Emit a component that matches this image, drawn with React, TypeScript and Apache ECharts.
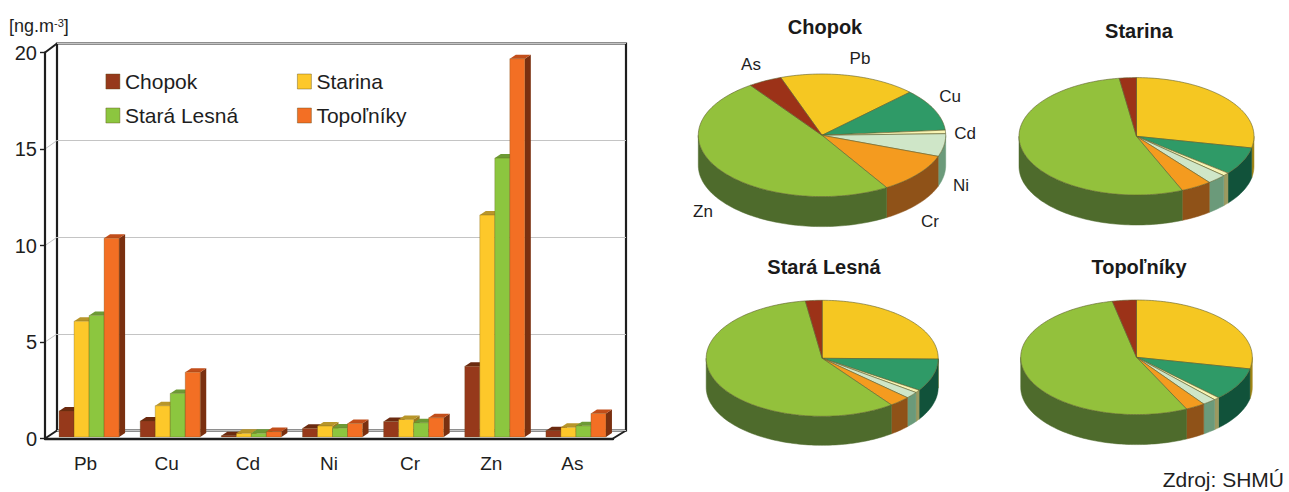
import React, { useEffect, useRef } from "react";
import * as echarts from "echarts";

// Heavy metals in PM10 at four Slovak stations, ng.m-3
const categories = ["Pb", "Cu", "Cd", "Ni", "Cr", "Zn", "As"];
const chopok = [1.35, 0.83, 0.07, 0.45, 0.8, 3.67, 0.33];
const starina = [6.0, 1.62, 0.19, 0.57, 0.91, 11.5, 0.5];
const staraLesna = [6.3, 2.26, 0.19, 0.46, 0.74, 14.45, 0.58];
const topolniky = [10.3, 3.36, 0.28, 0.7, 1.0, 19.6, 1.22];
const yTicks = { min: 0, max: 20, step: 5 };

const FONT = '"Liberation Sans", Arial, sans-serif';
const INK = "#1e1e1e";

// front face, top face, side face of each 3D column
const barStyles = [
  { name: "Chopok", values: chopok, front: "#96391b", top: "#6b2a10", side: "#6b2a10" },
  { name: "Starina", values: starina, front: "#fdc82a", top: "#b8962a", side: "#9a7a20" },
  { name: "Stará Lesná", values: staraLesna, front: "#8cc63f", top: "#6d9a35", side: "#557a28" },
  { name: "Topoľníky", values: topolniky, front: "#f36f24", top: "#c24e1a", side: "#7a3010" },
];

const sliceTop = ["#f5c722", "#2f9a67", "#f8f4b4", "#cfe6c8", "#f49b1f", "#93c13c", "#9c3218"];
const sliceSide = ["#a08518", "#11523a", "#9c9a60", "#6b9a7a", "#8f5218", "#4e6b2c", "#5c1d0c"];

const pies = [
  { title: "Chopok", values: chopok, start: -19.5, cx: 822, cy: 135.3, rx: 123.7, ry: 61.3, depth: 30, titleX: 825, titleY: 27 },
  { title: "Starina", values: starina, start: 0, cx: 1136.5, cy: 136.3, rx: 117.5, ry: 58.7, depth: 30, titleX: 1139, titleY: 31 },
  { title: "Stará Lesná", values: staraLesna, start: 0, cx: 822.2, cy: 358.3, rx: 116, ry: 58, depth: 29, titleX: 824, titleY: 267 },
  { title: "Topoľníky", values: topolniky, start: 0, cx: 1136.5, cy: 357.3, rx: 115.8, ry: 57.3, depth: 30, titleX: 1139, titleY: 267 },
];

// slice captions around the first pie only
const chopokLabels = [
  { text: "As", x: 751, y: 64 },
  { text: "Pb", x: 860, y: 58 },
  { text: "Cu", x: 950, y: 96 },
  { text: "Cd", x: 965, y: 133 },
  { text: "Ni", x: 961, y: 185 },
  { text: "Cr", x: 930, y: 221 },
  { text: "Zn", x: 703, y: 211 },
];

const SHIFT_X = 3.5;
const SHIFT_Y = -1.5;
const DEPTH_X = 6;
const DEPTH_Y = 4;

function barRenderer(seriesIndex: number, style: (typeof barStyles)[number]) {
  return (_params: any, api: any) => {
    const cat = api.value(0);
    const [cx, top0] = api.coord([cat, api.value(1)]);
    const [, base0] = api.coord([cat, 0]);
    const w = api.size([1, 0])[0] * 0.185;
    const left = cx + SHIFT_X - 2 * w + seriesIndex * w;
    const top = top0 + SHIFT_Y;
    const base = base0 + SHIFT_Y;
    const right = left + w;
    return {
      type: "group",
      children: [
        {
          type: "polygon",
          shape: { points: [[right, top], [right + DEPTH_X, top - DEPTH_Y], [right + DEPTH_X, base - DEPTH_Y], [right, base]] },
          style: { fill: style.side },
        },
        {
          type: "polygon",
          shape: { points: [[left, top], [left + DEPTH_X, top - DEPTH_Y], [right + DEPTH_X, top - DEPTH_Y], [right, top]] },
          style: { fill: style.top },
        },
        {
          type: "rect",
          shape: { x: left, y: top, width: w, height: base - top },
          style: { fill: style.front, stroke: "rgba(90,70,20,0.45)", lineWidth: 0.6 },
        },
      ],
    };
  };
}

function pieRenderer(pie: (typeof pies)[number]) {
  const total = pie.values.reduce((a, b) => a + b, 0);
  const rad = (deg: number) => (deg * Math.PI) / 180;
  const rim = (deg: number, drop = 0) => [
    pie.cx + pie.rx * Math.sin(rad(deg)),
    pie.cy - pie.ry * Math.cos(rad(deg)) + drop,
  ];
  return (params: any, api: any) => {
    const i = params.dataIndex;
    const before = pie.values.slice(0, i).reduce((a, b) => a + b, 0);
    const from = pie.start + (before / total) * 360;
    const to = from + (api.value(0) / total) * 360;

    const arc: number[][] = [];
    for (let a = from; a < to; a += 1.5) arc.push(rim(a));
    arc.push(rim(to));

    const children: any[] = [];
    // outer wall is visible only along the near half of the ellipse
    const wallFrom = Math.max(from, 90);
    const wallTo = Math.min(to, 270);
    if (wallTo > wallFrom) {
      const upper: number[][] = [];
      const lower: number[][] = [];
      for (let a = wallFrom; a < wallTo; a += 1.5) {
        upper.push(rim(a));
        lower.push(rim(a, pie.depth));
      }
      upper.push(rim(wallTo));
      lower.push(rim(wallTo, pie.depth));
      children.push({
        type: "polygon",
        shape: { points: [...upper, ...lower.reverse()] },
        style: { fill: sliceSide[i], stroke: sliceSide[i], lineWidth: 0.5 },
      });
    }
    children.push({
      type: "polygon",
      shape: { points: [[pie.cx, pie.cy], ...arc] },
      style: { fill: sliceTop[i], stroke: "rgba(95,95,45,0.75)", lineWidth: 0.8 },
    });
    return { type: "group", children };
  };
}

export default function App() {
  const ref = useRef<HTMLDivElement>(null);

  useEffect(() => {
    document.body.style.margin = "0";
    document.body.style.background = "#ffffff";
    const chart = echarts.init(ref.current!, undefined, { renderer: "svg" });

    const wallDiagonals = [
      { x1: 45, y1: 52.5, x2: 57, y2: 43.5, color: INK, width: 2 },
      { x1: 45, y1: 149, x2: 57, y2: 140.5, color: "#c4c4c4", width: 1 },
      { x1: 45, y1: 245.5, x2: 57, y2: 237.3, color: "#c4c4c4", width: 1 },
      { x1: 45, y1: 342, x2: 57, y2: 334, color: "#c4c4c4", width: 1 },
      { x1: 45, y1: 438.5, x2: 57, y2: 430.5, color: INK, width: 2 },
      { x1: 613, y1: 438.5, x2: 626, y2: 430.5, color: INK, width: 2 },
    ];

    const legendBase = {
      orient: "vertical",
      top: 70,
      itemWidth: 14,
      itemHeight: 15,
      itemGap: 11,
      padding: 0,
      icon: "rect",
      selectedMode: false,
      itemStyle: { borderColor: "rgba(90,70,20,0.5)", borderWidth: 0.8 },
      textStyle: { fontFamily: FONT, fontSize: 21, color: INK, lineHeight: 23 },
    };

    chart.setOption({
      animation: false,
      backgroundColor: "#ffffff",
      textStyle: { fontFamily: FONT },
      title: pies.map((p) => ({
        text: p.title,
        left: p.titleX,
        top: p.titleY,
        padding: 0,
        textAlign: "center",
        textVerticalAlign: "middle",
        textStyle: { fontFamily: FONT, fontSize: 20, fontWeight: "bold", color: "#1a1a1a" },
      })),
      legend: [
        { ...legendBase, data: ["Chopok", "Stará Lesná"], left: 105.5 },
        { ...legendBase, data: ["Starina", "Topoľníky"], left: 297 },
      ],
      grid: [
        // back wall of the 3D plot box
        {
          left: 57,
          top: 43.5,
          width: 569,
          height: 387,
          show: true,
          borderColor: INK,
          borderWidth: 2.2,
          backgroundColor: "transparent",
        },
        // front plane that carries the axes and the columns
        { left: 45, top: 52.5, width: 568, height: 386 },
      ],
      xAxis: [
        { gridIndex: 0, type: "category", data: categories, show: false },
        {
          gridIndex: 1,
          type: "category",
          data: categories,
          axisTick: { show: false },
          axisLine: { lineStyle: { color: INK, width: 2.4 } },
          axisLabel: { fontFamily: FONT, fontSize: 19, color: INK, margin: 15 },
        },
      ],
      yAxis: [
        {
          gridIndex: 0,
          type: "value",
          min: yTicks.min,
          max: yTicks.max,
          interval: yTicks.step,
          axisLine: { show: false },
          axisTick: { show: false },
          axisLabel: { show: false },
          splitLine: { show: true, lineStyle: { color: "#c4c4c4", width: 1 } },
        },
        {
          gridIndex: 1,
          type: "value",
          min: yTicks.min,
          max: yTicks.max,
          interval: yTicks.step,
          axisLine: { show: true, lineStyle: { color: INK, width: 2.2 } },
          axisTick: { show: true, length: 5, lineStyle: { color: INK, width: 1.4 } },
          axisLabel: { fontFamily: FONT, fontSize: 20, color: INK, margin: 8, padding: [7, 0, 0, 0] },
          splitLine: { show: false },
        },
      ],
      graphic: [
        ...wallDiagonals.map((d) => ({
          type: "line",
          silent: true,
          shape: { x1: d.x1, y1: d.y1, x2: d.x2, y2: d.y2 },
          style: { stroke: d.color, lineWidth: d.width },
        })),
        {
          type: "text",
          left: 9,
          top: 17,
          silent: true,
          style: {
            text: "{a|[ng.m}{b|-3}{a|]}",
            rich: {
              a: { fontFamily: FONT, fontSize: 18, fill: INK, verticalAlign: "bottom" },
              b: { fontFamily: FONT, fontSize: 11, fill: INK, verticalAlign: "top" },
            },
          },
        },
        ...chopokLabels.map((l) => ({
          type: "text",
          x: l.x,
          y: l.y,
          silent: true,
          style: { text: l.text, fontFamily: FONT, fontSize: 17, fill: INK, align: "center", verticalAlign: "middle" },
        })),
        {
          type: "text",
          x: 1284,
          y: 479,
          silent: true,
          style: { text: "Zdroj: SHMÚ", fontFamily: FONT, fontSize: 21, fill: INK, align: "right", verticalAlign: "middle" },
        },
      ],
      series: [
        ...barStyles.map((s, idx) => ({
          type: "custom",
          name: s.name,
          xAxisIndex: 1,
          yAxisIndex: 1,
          silent: true,
          itemStyle: { color: s.front },
          data: s.values.map((v, c) => [c, v]),
          encode: { x: 0, y: 1 },
          renderItem: barRenderer(idx, s),
        })),
        ...pies.map((p) => ({
          type: "custom",
          name: `${p.title} – podiel`,
          coordinateSystem: "none",
          silent: true,
          data: p.values.map((v) => [v]),
          renderItem: pieRenderer(p),
        })),
      ],
    });

    return () => chart.dispose();
  }, []);

  return (
    <div
      ref={ref}
      style={{ position: "absolute", left: 0, top: 0, width: 1289, height: 492 }}
    />
  );
}
